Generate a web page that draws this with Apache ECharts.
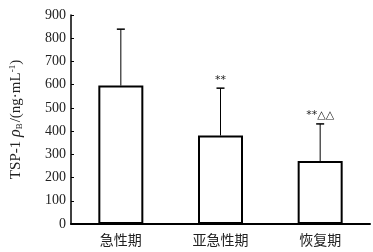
<!DOCTYPE html>
<html><head><meta charset="utf-8">
<script src="https://cdn.jsdelivr.net/npm/echarts@6/dist/echarts.min.js"></script>
<style>html,body{margin:0;padding:0;background:#fff}#c{width:373px;height:252px}</style>
</head><body><div id="c"></div>
<script>
var categories = ['急性期', '亚急性期', '恢复期'];
var means = [596, 381, 271];
var errorTops = [839, 585, 431];
var marks = ['', '**', '**△△'];
var yTicks = [0, 100, 200, 300, 400, 500, 600, 700, 800, 900];

var chart = echarts.init(document.getElementById('c'), null, {renderer: 'canvas'});
var serif = '"Liberation Serif", "Times New Roman", serif';
chart.setOption({
  animation: false,
  grid: {left: 63, right: 3, top: 15, bottom: 28},
  xAxis: {
    type: 'category', data: categories,
    axisLine: {lineStyle: {color: '#000', width: 2}},
    axisTick: {show: false},
    axisLabel: {color: '#222', fontSize: 14, margin: 9, fontFamily: '"Noto Sans CJK SC"'}
  },
  yAxis: {
    type: 'value', min: yTicks[0], max: yTicks[yTicks.length - 1], interval: 100,
    splitLine: {show: false},
    axisLine: {show: true, lineStyle: {color: '#000', width: 1.5}},
    axisTick: {show: true, inside: true, length: 3, lineStyle: {color: '#000'}},
    axisLabel: {color: '#222', fontSize: 14, fontFamily: serif, margin: 5},
    name: '{a|TSP-1 }{i|ρ}{s|B}{a|/(ng·mL}{p|-1}{a|)}',
    nameLocation: 'middle', nameRotate: 90, nameGap: 47,
    nameTextStyle: {
      rich: {
        a: {fontSize: 15, fontFamily: serif, color: '#222'},
        i: {fontSize: 16, fontFamily: serif, fontStyle: 'italic', color: '#222'},
        s: {fontSize: 9, fontFamily: serif, color: '#222', padding: [7, 1, 0, 0]},
        p: {fontSize: 9, fontFamily: serif, color: '#222', padding: [0, 0, 7, 0]}
      }
    }
  },
  series: [
    {
      type: 'bar', data: means, barWidth: 45,
      itemStyle: {color: '#fff', borderColor: '#000', borderWidth: 2}
    },
    {
      type: 'custom',
      data: categories.map(function (c, i) { return [i, means[i], errorTops[i]]; }),
      renderItem: function (params, api) {
        var base = api.coord([api.value(0), api.value(1)]);
        var top = api.coord([api.value(0), api.value(2)]);
        var x = base[0];
        var idx = params.dataIndex;
        var children = [
          {type: 'line', shape: {x1: x, y1: base[1], x2: x, y2: top[1]}, style: {stroke: '#000', lineWidth: 1}},
          {type: 'line', shape: {x1: x - 4, y1: top[1], x2: x + 4, y2: top[1]}, style: {stroke: '#000', lineWidth: 1.5}}
        ];
        if (marks[idx]) {
          children.push({type: 'text', x: x, y: top[1] - 3, style: {
            text: marks[idx], fill: '#222', font: '11px "DejaVu Sans"', align: 'center', verticalAlign: 'bottom'
          }});
        }
        return {type: 'group', children: children};
      },
      z: 5
    }
  ]
});
</script></body></html>
